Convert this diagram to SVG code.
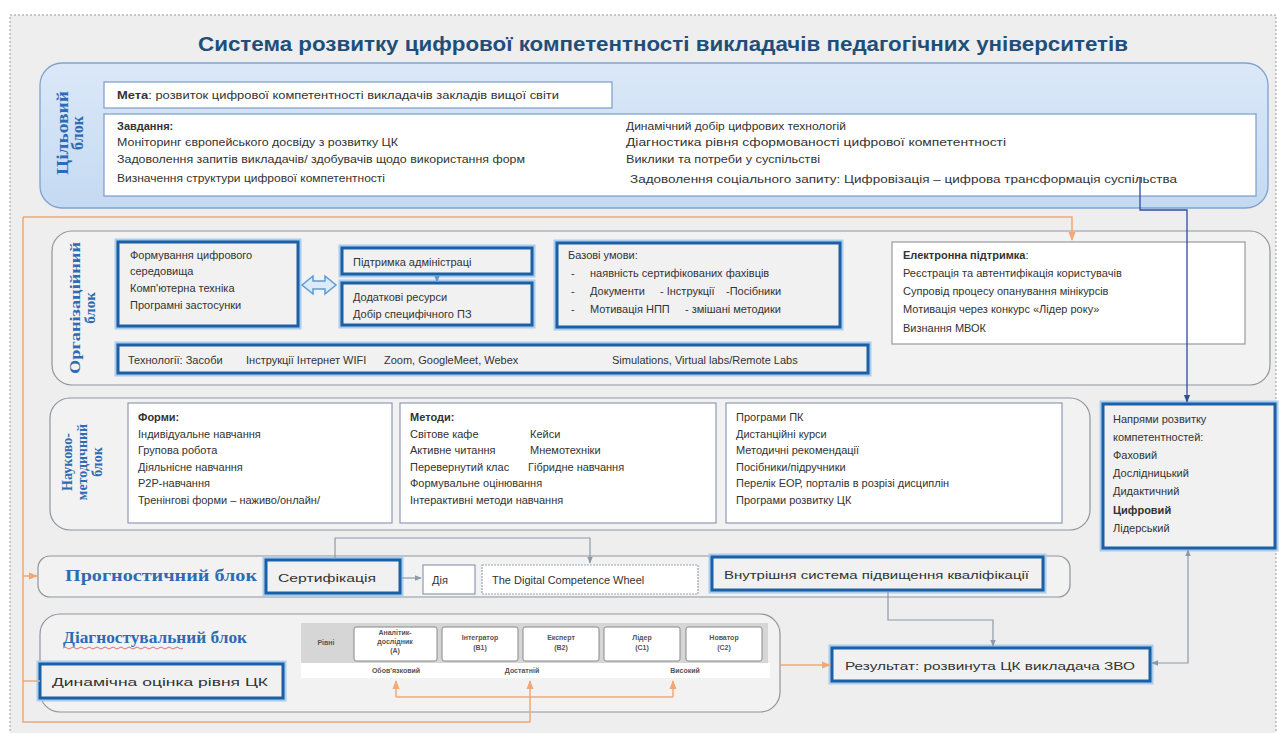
<svg xmlns="http://www.w3.org/2000/svg" width="1280" height="733" viewBox="0 0 1280 733">
<style>
text{font-family:"Liberation Sans","Noto Sans",Arial,sans-serif;fill:#333}
.t{font-size:11px}
.b{font-weight:bold}
.ttl{font-size:21px;font-weight:bold;fill:#1f4e79}
.lbl{font-family:"Liberation Serif","Times New Roman",serif;font-weight:bold;fill:#2e6bb2}
.cont{fill:#f2f2f2;stroke:#8f959c;stroke-width:1.2}
.wb{fill:#fff;stroke:#8a9bb2;stroke-width:1.2}
.tb{fill:#f1f1f1;stroke:#1b5fa5;stroke-width:3}
.glow{fill:none;stroke:#a9cdee;stroke-width:7}
.lv{fill:#fff;stroke:#888;stroke-width:1}
.lt{font-size:7px;font-weight:bold;fill:#555;text-anchor:middle}
.og{fill:none;stroke:#f2a874;stroke-width:1.5}
.gr{fill:none;stroke:#8c9aa8;stroke-width:1.2}
.bl{fill:none;stroke:#2d4f9e;stroke-width:1.3}
</style>
<defs>
<linearGradient id="gb" x1="0" y1="0" x2="0" y2="1">
<stop offset="0" stop-color="#dbe8f8"/>
<stop offset="1" stop-color="#c4daf2"/>
</linearGradient>
<marker id="ao" viewBox="0 0 10 10" refX="9" refY="5" markerWidth="6" markerHeight="6" orient="auto-start-reverse"><path d="M0,1 L10,5 L0,9 z" fill="#f2a874"/></marker>
<marker id="ag" viewBox="0 0 10 10" refX="9" refY="5" markerWidth="6" markerHeight="6" orient="auto-start-reverse"><path d="M0,1 L10,5 L0,9 z" fill="#8c9aa8"/></marker>
<marker id="ab" viewBox="0 0 10 10" refX="9" refY="5" markerWidth="6" markerHeight="6" orient="auto-start-reverse"><path d="M0,1 L10,5 L0,9 z" fill="#2d4f9e"/></marker>
<marker id="al" viewBox="0 0 10 10" refX="9" refY="5" markerWidth="5" markerHeight="5" orient="auto-start-reverse"><path d="M0,1 L10,5 L0,9 z" fill="#5b9bd5"/></marker>
</defs>

<rect x="0" y="0" width="1280" height="733" fill="#fff"/>
<rect x="10" y="15" width="1266" height="730" fill="#efeeee" stroke="#9a9a9a" stroke-width="1" stroke-dasharray="2,2"/>

<g id="title">
<text class="ttl" x="198" y="51" textLength="930" lengthAdjust="spacingAndGlyphs">Система розвитку цифрової компетентності викладачів педагогічних університетів</text>
</g>

<g id="block-target">
<rect x="40" y="63" width="1228" height="145" rx="22" fill="url(#gb)" stroke="#7ea3cf" stroke-width="1.3"/>
<g transform="translate(68,133) rotate(-90)">
<text class="lbl" x="0" y="0" font-size="16" text-anchor="middle" textLength="84" lengthAdjust="spacingAndGlyphs">Цільовий</text>
<text class="lbl" x="0" y="15" font-size="16" text-anchor="middle">блок</text>
</g>
</g>

<g id="goal">
<rect x="104" y="82" width="508" height="26" fill="#fff" stroke="#7a9cc6" stroke-width="1.2"/>
<text class="t" x="117" y="99" font-size="10.5" textLength="442" lengthAdjust="spacingAndGlyphs"><tspan class="b">Мета</tspan>: розвиток цифрової компетентності викладачів закладів вищої світи</text>
</g>

<g id="tasks">
<rect x="104" y="114" width="1152" height="82" fill="#fff" stroke="#7a9cc6" stroke-width="1.2"/>
<text class="t b" x="117" y="130">Завдання:</text>
<text class="t" x="117" y="146" textLength="281" lengthAdjust="spacingAndGlyphs">Моніторинг європейського досвіду з розвитку ЦК</text>
<text class="t" x="117" y="163" textLength="408" lengthAdjust="spacingAndGlyphs">Задоволення запитів викладачів/ здобувачів щодо використання форм</text>
<text class="t" x="117" y="182" textLength="268" lengthAdjust="spacingAndGlyphs">Визначення структури цифрової компетентності</text>
<text class="t" x="626" y="130" textLength="220" lengthAdjust="spacingAndGlyphs">Динамічний добір цифрових технологій</text>
<text class="t" x="626" y="146" textLength="380" lengthAdjust="spacingAndGlyphs">Діагностика рівня сформованості цифрової компетентності</text>
<text class="t" x="626" y="163" textLength="194" lengthAdjust="spacingAndGlyphs">Виклики та потреби у суспільстві</text>
<text class="t" x="630" y="183" textLength="547" lengthAdjust="spacingAndGlyphs">Задоволення соціального запиту: Цифровізація – цифрова трансформація суспільства</text>
</g>

<g id="block-org">
<rect class="cont" x="52" y="231" width="1218" height="154" rx="20"/>
<g transform="translate(80,308) rotate(-90)">
<text class="lbl" x="0" y="0" font-size="15" text-anchor="middle" textLength="132" lengthAdjust="spacingAndGlyphs">Організаційний</text>
<text class="lbl" x="0" y="15" font-size="15" text-anchor="middle">блок</text>
</g>
</g>

<g id="digital-env">
<rect class="glow" x="118" y="242" width="180" height="84"/>
<rect class="tb" x="118" y="242" width="180" height="84"/>
<text class="t" x="130" y="259">Формування цифрового</text>
<text class="t" x="130" y="275">середовища</text>
<text class="t" x="130" y="292">Комп'ютерна техніка</text>
<text class="t" x="130" y="309">Програмні застосунки</text>
</g>

<g id="admin-support">
<rect class="glow" x="342" y="248" width="190" height="26"/>
<rect class="tb" x="342" y="248" width="190" height="26"/>
<text class="t" x="353" y="266">Підтримка адміністраці</text>
</g>

<g id="extra-resources">
<rect class="glow" x="342" y="283" width="190" height="42"/>
<rect class="tb" x="342" y="283" width="190" height="42"/>
<text class="t" x="353" y="301">Додаткові ресурси</text>
<text class="t" x="353" y="318">Добір специфічного ПЗ</text>
</g>

<g id="basic-conditions">
<rect class="glow" x="557" y="243" width="283" height="84"/>
<rect class="tb" x="557" y="243" width="283" height="84"/>
<text class="t" x="568" y="259">Базові умови:</text>
<text class="t" x="571" y="277">-</text>
<text class="t" x="590" y="277">наявність сертифікованих фахівців</text>
<text class="t" x="571" y="295">-</text>
<text class="t" x="590" y="295">Документи</text>
<text class="t" x="660" y="295">- Інструкції</text>
<text class="t" x="726" y="295">-Посібники</text>
<text class="t" x="571" y="313">-</text>
<text class="t" x="590" y="313">Мотивація НПП</text>
<text class="t" x="685" y="313">- змішані методики</text>
</g>

<g id="e-support">
<rect x="892" y="242" width="353" height="102" fill="#fff" stroke="#9a9a9a" stroke-width="1.2"/>
<text class="t" x="903" y="259"><tspan class="b">Електронна підтримка</tspan>:</text>
<text class="t" x="903" y="277">Реєстрація та автентифікація користувачів</text>
<text class="t" x="903" y="295">Супровід процесу опанування мінікурсів</text>
<text class="t" x="903" y="313">Мотивація через конкурс «Лідер року»</text>
<text class="t" x="903" y="332">Визнання МВОК</text>
</g>

<g id="technologies">
<rect class="glow" x="118" y="345" width="750" height="28"/>
<rect class="tb" x="118" y="345" width="750" height="28"/>
<text class="t" x="128" y="364">Технології: Засоби</text>
<text class="t" x="246" y="364">Інструкції Інтернет WIFI</text>
<text class="t" x="384" y="364">Zoom, GoogleMeet, Webex</text>
<text class="t" x="612" y="364">Simulations, Virtual labs/Remote Labs</text>
</g>

<g id="block-method">
<rect class="cont" x="50" y="398" width="1040" height="132" rx="20"/>
<g transform="translate(72,462) rotate(-90)">
<text class="lbl" x="0" y="0" font-size="14" text-anchor="middle">Науково-</text>
<text class="lbl" x="0" y="15" font-size="14" text-anchor="middle">методичний</text>
<text class="lbl" x="0" y="30" font-size="14" text-anchor="middle">блок</text>
</g>
</g>

<g id="forms">
<rect class="wb" x="128" y="403" width="264" height="120"/>
<text class="t b" x="138" y="421">Форми:</text>
<text class="t" x="138" y="438">Індивідуальне навчання</text>
<text class="t" x="138" y="454">Групова робота</text>
<text class="t" x="138" y="471">Діяльнісне навчання</text>
<text class="t" x="138" y="487">P2P-навчання</text>
<text class="t" x="138" y="504">Тренінгові форми – наживо/онлайн/</text>
</g>

<g id="methods">
<rect class="wb" x="400" y="403" width="316" height="120"/>
<text class="t b" x="410" y="421">Методи:</text>
<text class="t" x="410" y="438">Світове кафе</text>
<text class="t" x="530" y="438">Кейси</text>
<text class="t" x="410" y="454">Активне читання</text>
<text class="t" x="530" y="454">Мнемотехніки</text>
<text class="t" x="410" y="471">Перевернутий клас</text>
<text class="t" x="528" y="471">Гібридне навчання</text>
<text class="t" x="410" y="487">Формувальне оцінювання</text>
<text class="t" x="410" y="504">Інтерактивні методи навчання</text>
</g>

<g id="programs">
<rect class="wb" x="726" y="403" width="336" height="120"/>
<text class="t" x="736" y="421">Програми ПК</text>
<text class="t" x="736" y="438">Дистанційні курси</text>
<text class="t" x="736" y="454">Методичні рекомендації</text>
<text class="t" x="736" y="471">Посібники/підручники</text>
<text class="t" x="736" y="487">Перелік ЕОР, порталів в розрізі дисциплін</text>
<text class="t" x="736" y="504">Програми розвитку ЦК</text>
</g>

<g id="directions">
<rect class="glow" x="1103" y="404" width="172" height="144"/>
<rect class="tb" x="1103" y="404" width="172" height="144"/>
<text class="t" x="1113" y="423">Напрями розвитку</text>
<text class="t" x="1113" y="441">компетентностей:</text>
<text class="t" x="1113" y="459">Фаховий</text>
<text class="t" x="1113" y="477">Дослідницький</text>
<text class="t" x="1113" y="495">Дидактичний</text>
<text class="t b" x="1113" y="514">Цифровий</text>
<text class="t" x="1113" y="532">Лідерський</text>
</g>

<g id="block-prognostic">
<rect class="cont" x="38" y="556" width="1032" height="41" rx="12"/>
<text class="lbl" x="65" y="581" font-size="16" textLength="192" lengthAdjust="spacingAndGlyphs">Прогностичний блок</text>
</g>

<g id="certification">
<rect class="glow" x="266" y="560" width="134" height="33"/>
<rect class="tb" x="266" y="560" width="134" height="33"/>
<text class="t" x="278" y="582" font-size="14" textLength="98" lengthAdjust="spacingAndGlyphs">Сертифікація</text>
</g>

<g id="dia">
<rect class="wb" x="423" y="565" width="52" height="29"/>
<text class="t" x="432" y="584">Дія</text>
</g>

<g id="wheel">
<rect x="482" y="565" width="216" height="29" fill="#fff" stroke="#9aa4b0" stroke-width="1.2" stroke-dasharray="2,1"/>
<text class="t" x="492" y="584" font-size="11.5">The Digital Competence Wheel</text>
</g>

<g id="internal-system">
<rect class="glow" x="712" y="557" width="331" height="33"/>
<rect class="tb" x="712" y="557" width="331" height="33"/>
<text class="t" x="724" y="579" font-size="13" textLength="305" lengthAdjust="spacingAndGlyphs">Внутрішня система підвищення кваліфікації</text>
</g>

<g id="block-diagnostic">
<rect class="cont" x="40" y="614" width="740" height="98" rx="20"/>
<text class="lbl" x="63" y="643" font-size="16" textLength="184" lengthAdjust="spacingAndGlyphs">Діагностувальний  блок</text>
<path d="M63,648 q2,-2 4,0 t4,0 t4,0 t4,0 t4,0 t4,0 t4,0 t4,0 t4,0 t4,0 t4,0 t4,0 t4,0 t4,0 t4,0 t4,0 t4,0 t4,0 t4,0 t4,0 t4,0 t4,0 t4,0 t4,0 t4,0 t4,0 t4,0 t4,0 t4,0 t4,0" fill="none" stroke="#e07070" stroke-width="1"/>
</g>

<g id="dynamic-assessment">
<rect class="glow" x="40" y="664" width="243" height="34"/>
<rect class="tb" x="40" y="664" width="243" height="34"/>
<text class="t" x="52" y="686" font-size="14" textLength="216" lengthAdjust="spacingAndGlyphs">Динамічна оцінка рівня ЦК</text>
</g>

<g id="levels">
<rect x="301" y="663" width="469" height="15" fill="#fff"/>
<rect x="301" y="623" width="467" height="40" fill="#d6d6d6"/>
<text class="lt" x="326" y="645" font-weight="normal">Рівні</text>
<rect class="lv" x="354" y="627" width="83" height="34" rx="2"/>
<text class="lt" x="395" y="635">Аналітик-</text>
<text class="lt" x="395" y="644">дослідник</text>
<text class="lt" x="395" y="653">(A)</text>
<rect class="lv" x="442" y="627" width="76" height="34" rx="2"/>
<text class="lt" x="480" y="640">Інтегратор</text>
<text class="lt" x="480" y="650">(B1)</text>
<rect class="lv" x="523" y="627" width="76" height="34" rx="2"/>
<text class="lt" x="561" y="640">Експерт</text>
<text class="lt" x="561" y="650">(B2)</text>
<rect class="lv" x="604" y="627" width="76" height="34" rx="2"/>
<text class="lt" x="642" y="640">Лідер</text>
<text class="lt" x="642" y="650">(C1)</text>
<rect class="lv" x="686" y="627" width="76" height="34" rx="2"/>
<text class="lt" x="724" y="640">Новатор</text>
<text class="lt" x="724" y="650">(C2)</text>
<text class="lt" x="396" y="673" font-weight="normal">Обов'язковий</text>
<text class="lt" x="522" y="673" font-weight="normal">Достатній</text>
<text class="lt" x="685" y="673" font-weight="normal">Високий</text>
</g>

<g id="result">
<rect class="glow" x="832" y="648" width="318" height="33"/>
<rect class="tb" x="832" y="648" width="318" height="33"/>
<text class="t" x="845" y="670" font-size="14" textLength="290" lengthAdjust="spacingAndGlyphs">Результат: розвинута ЦК викладача ЗВО</text>
</g>

<g id="connectors">
<path class="bl" d="M1140,178 V210 H1187 V402" marker-end="url(#ab)"/>
<path class="og" d="M23,217 H1072 V240" marker-end="url(#ao)"/>
<path class="og" d="M23,217 V722 H530 V681" marker-end="url(#ao)"/>
<path class="og" d="M396,697 H673"/>
<path class="og" d="M396,697 V681" marker-end="url(#ao)"/>
<path class="og" d="M673,697 V681" marker-end="url(#ao)"/>
<path class="og" d="M23,576 H37" marker-end="url(#ao)"/>
<path class="og" d="M23,681 H40"/>
<path class="og" d="M780,665 H830" marker-end="url(#ao)"/>
<path d="M302,285 L313,276 L313,281 L325,281 L325,276 L336,285 L325,294 L325,289 L313,289 L313,294 Z" fill="#dce9f7" stroke="#5b9bd5" stroke-width="1.5"/>
<path fill="none" stroke="#5b9bd5" stroke-width="1.5" d="M437,275 V282" marker-end="url(#al)"/>
<path class="gr" d="M402,578 H421" marker-end="url(#ag)"/>
<path class="gr" d="M335,559 V538 H590 V563" marker-end="url(#ag)"/>
<path class="gr" d="M888,591 V620 H993 V646" marker-end="url(#ag)"/>
<path class="gr" d="M1188,550 V663 H1152" marker-start="url(#ag)" marker-end="url(#ag)"/>
</g>
</svg>
